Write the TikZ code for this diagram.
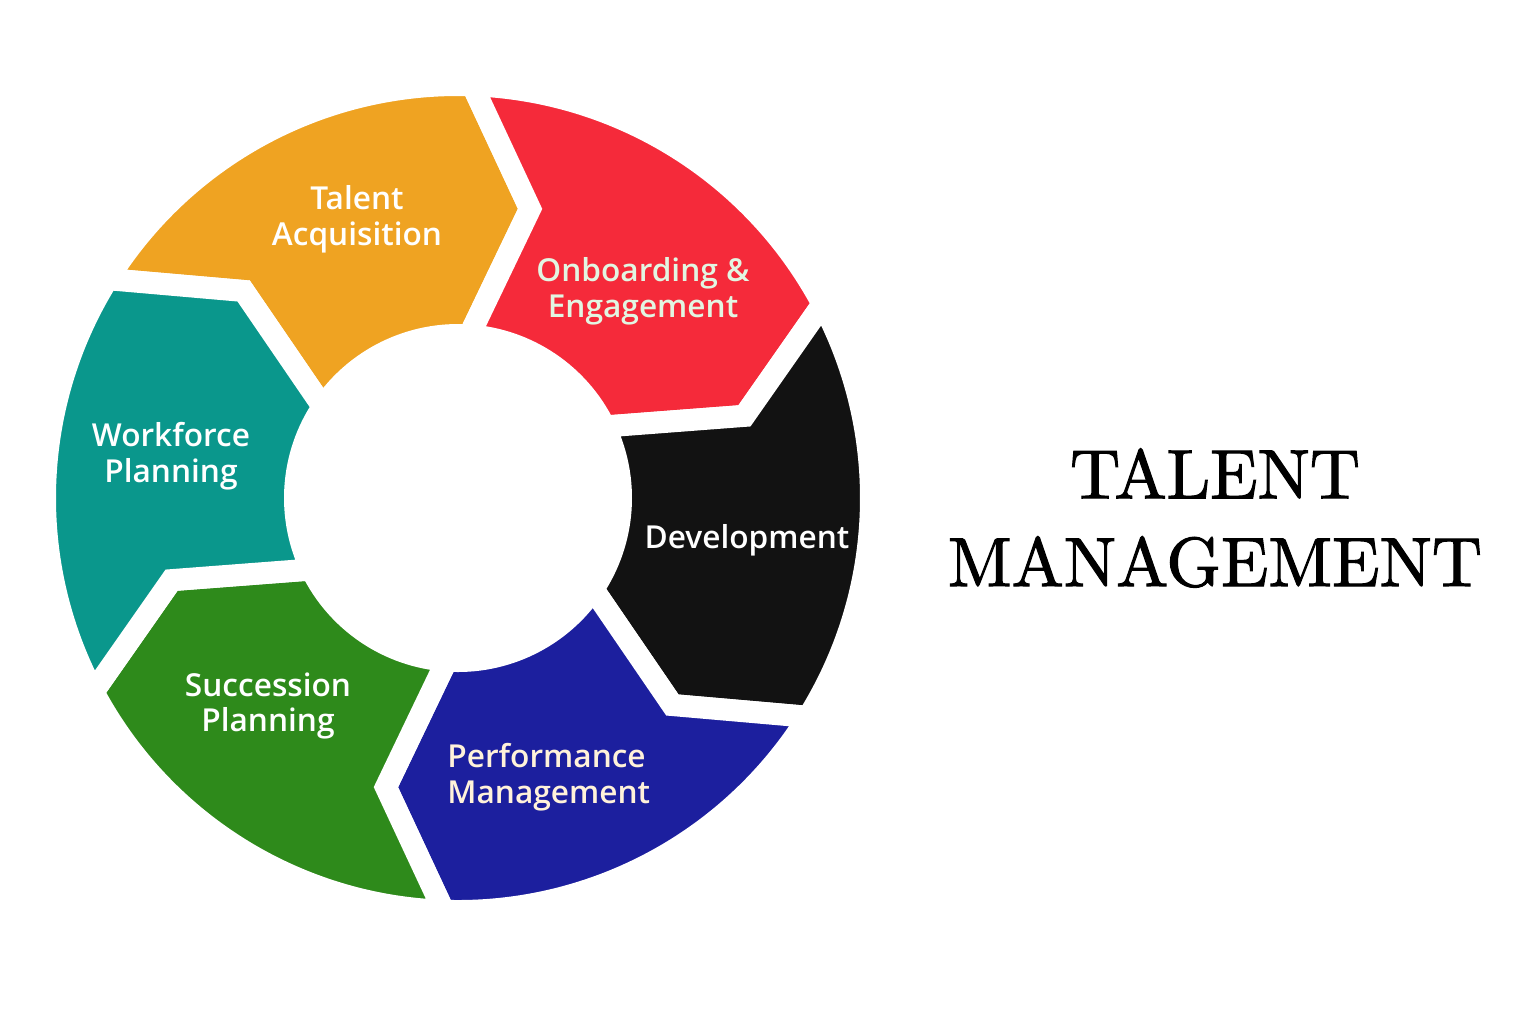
\documentclass[tikz,border=0pt]{standalone}
\usepackage{fontspec}
\IfFontExistsTF{Open Sans SemiBold}
  {\newfontfamily\segfont{Open Sans SemiBold}}
  {\IfFontExistsTF{Open Sans Semibold}
    {\newfontfamily\segfont{Open Sans Semibold}}
    {\newfontfamily\opensans{Open Sans}\newcommand\segfont{\opensans\bfseries}}}
\IfFontExistsTF{lmroman10-regular.otf}
  {\newfontfamily\titlefont{lmroman10-regular.otf}[FakeBold=1.6]}
  {\newcommand\titlefont{\rmfamily}}
\definecolor{acqorange}{RGB}{239,163,34}
\definecolor{onbred}{RGB}{245,42,58}
\definecolor{devblack}{RGB}{18,18,18}
\definecolor{perfblue}{RGB}{28,31,158}
\definecolor{succgreen}{RGB}{46,138,27}
\definecolor{workteal}{RGB}{10,151,140}
\definecolor{mint}{RGB}{226,246,226}
\definecolor{cream}{RGB}{255,242,218}
\tikzset{
  seg/.style={draw=white,line width=2.2mm},
  lbl/.style={text=white,align=center,
    font=\segfont\fontsize{9}{10.2}\selectfont}
}
\begin{document}
\begin{tikzpicture}
  \useasboundingbox (-4.58,-5.14) rectangle (10.78,4.98);

  % ring, clockwise from top left
  \filldraw[seg,fill=acqorange] (148:4.13) arc[start angle=148,end angle=88,radius=4.13]
    -- (76:2.98) -- (86:1.63) arc[start angle=86,end angle=146,radius=1.63]
    -- (136:2.98) -- cycle;
  \filldraw[seg,fill=onbred] (88:4.13) arc[start angle=88,end angle=28,radius=4.13]
    -- (16:2.98) -- (26:1.63) arc[start angle=26,end angle=86,radius=1.63]
    -- (76:2.98) -- cycle;
  \filldraw[seg,fill=devblack] (28:4.13) arc[start angle=28,end angle=-32,radius=4.13]
    -- (-44:2.98) -- (-34:1.63) arc[start angle=-34,end angle=26,radius=1.63]
    -- (16:2.98) -- cycle;
  \filldraw[seg,fill=perfblue] (-32:4.13) arc[start angle=-32,end angle=-92,radius=4.13]
    -- (-104:2.98) -- (-94:1.63) arc[start angle=-94,end angle=-34,radius=1.63]
    -- (-44:2.98) -- cycle;
  \filldraw[seg,fill=succgreen] (-92:4.13) arc[start angle=-92,end angle=-152,radius=4.13]
    -- (-164:2.98) -- (-154:1.63) arc[start angle=-154,end angle=-94,radius=1.63]
    -- (-104:2.98) -- cycle;
  \filldraw[seg,fill=workteal] (-152:4.13) arc[start angle=-152,end angle=-212,radius=4.13]
    -- (136:2.98) -- (146:1.63) arc[start angle=146,end angle=206,radius=1.63]
    -- (-164:2.98) -- cycle;

  \node[lbl] (acq) at (-1.01,2.79) {Talent\\Acquisition};
  \node[lbl,text=mint] (onb) at (1.85,2.07) {Onboarding \&\\Engagement};
  \node[lbl] (dev) at (2.89,-0.42) {Development};
  \node[lbl,text=cream,align=left,anchor=west] (perf) at (-0.23,-2.79) {Performance\\Management};
  \node[lbl] (succ) at (-1.90,-2.08) {Succession\\Planning};
  \node[lbl] (work) at (-2.87,0.42) {Workforce\\Planning};

  \node[align=center,font=\titlefont\fontsize{19.8}{25}\selectfont] (title) at (7.57,-0.20)
    {TALENT\\MANAGEMENT};
\end{tikzpicture}
\end{document}
